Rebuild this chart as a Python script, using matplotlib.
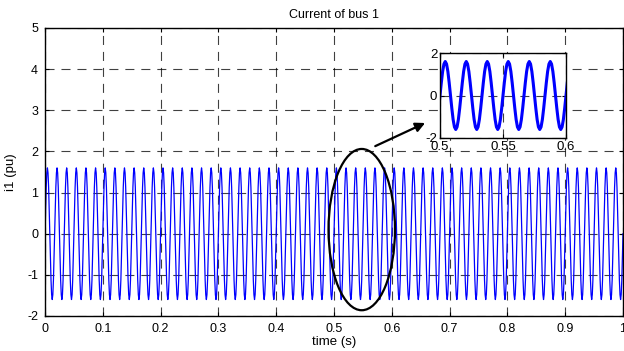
import numpy as np
import matplotlib
matplotlib.use('Agg')
import matplotlib.pyplot as plt
from matplotlib.patches import Ellipse

# one cycle of the bus current (pu)
cycle_values = [0.0, 0.6, 1.13, 1.48, 1.6, 1.48, 1.13, 0.6,
                0.0, -0.6, -1.13, -1.48, -1.6, -1.48, -1.13, -0.6]
frequency = 60.0        # cycles per second (6 peaks in 0.1 s)
n_cycles = 60           # 0 .. 1 s
x_ticks = [0, 0.1, 0.2, 0.3, 0.4, 0.5, 0.6, 0.7, 0.8, 0.9, 1]
x_tick_labels = ['0', '0.1', '0.2', '0.3', '0.4', '0.5', '0.6', '0.7', '0.8', '0.9', '1']
y_ticks = [-2, -1, 0, 1, 2, 3, 4, 5]
inset_x_ticks = [0.5, 0.55, 0.6]
inset_x_labels = ['0.5', '0.55', '0.6']
inset_y_ticks = [-2, 0, 2]

plt.rcParams['font.family'] = ['Liberation Sans', 'DejaVu Sans']
plt.rcParams['font.size'] = 9
plt.rcParams['axes.unicode_minus'] = False
plt.rcParams['lines.scale_dashes'] = False

dt = 1.0 / (frequency * len(cycle_values))
current = np.array(cycle_values * n_cycles + [cycle_values[0]])
time = np.arange(len(current)) * dt

grid_style = dict(color='k', linestyle=(0, (6.5, 5)), linewidth=0.8, alpha=0.75)

fig = plt.figure(figsize=(6.24, 3.51), dpi=100)
ax = fig.add_axes([45 / 624, 1 - 316 / 351, 578 / 624, 288 / 351])
ax.plot(time, current, color='blue', linewidth=0.9)
ax.set_xlim(0, 1)
ax.set_ylim(-2, 5)
ax.set_xticks(x_ticks)
ax.set_xticklabels(x_tick_labels)
ax.set_yticks(y_ticks)
ax.grid(True, **grid_style)
ax.tick_params(direction='in', top=True, right=True, length=3, pad=5)
for s in ax.spines.values():
    s.set_linewidth(1.0)
ax.set_title('Current of bus 1', fontsize=9, pad=7)
ax.set_xlabel('time (s)', fontsize=9.5, labelpad=1)
ax.set_ylabel('i1 (pu)', fontsize=9.5, labelpad=7)

# ellipse marking the zoomed region and arrow to the inset
ax.add_patch(Ellipse((0.548, 0.1), 0.115, 3.92, fill=False, edgecolor='k', linewidth=1.6, zorder=5))
ax.annotate('', xy=(0.662, 2.72), xytext=(0.567, 2.1),
            arrowprops=dict(arrowstyle='-|>', color='k', lw=1.6, mutation_scale=14), zorder=6)

ins = fig.add_axes([440 / 624, 1 - 138 / 351, 126 / 624, 85 / 351])
ins.plot(time, current, color='blue', linewidth=2.2)
ins.set_xlim(0.5, 0.6)
ins.set_ylim(-2, 2)
ins.set_xticks(inset_x_ticks)
ins.set_xticklabels(inset_x_labels)
ins.set_yticks(inset_y_ticks)
ins.grid(True, **grid_style)
ins.tick_params(direction='in', top=True, right=True, length=3, labelsize=9.5, pad=2)
for s in ins.spines.values():
    s.set_linewidth(1.0)

fig.savefig('out.png', dpi=100)
